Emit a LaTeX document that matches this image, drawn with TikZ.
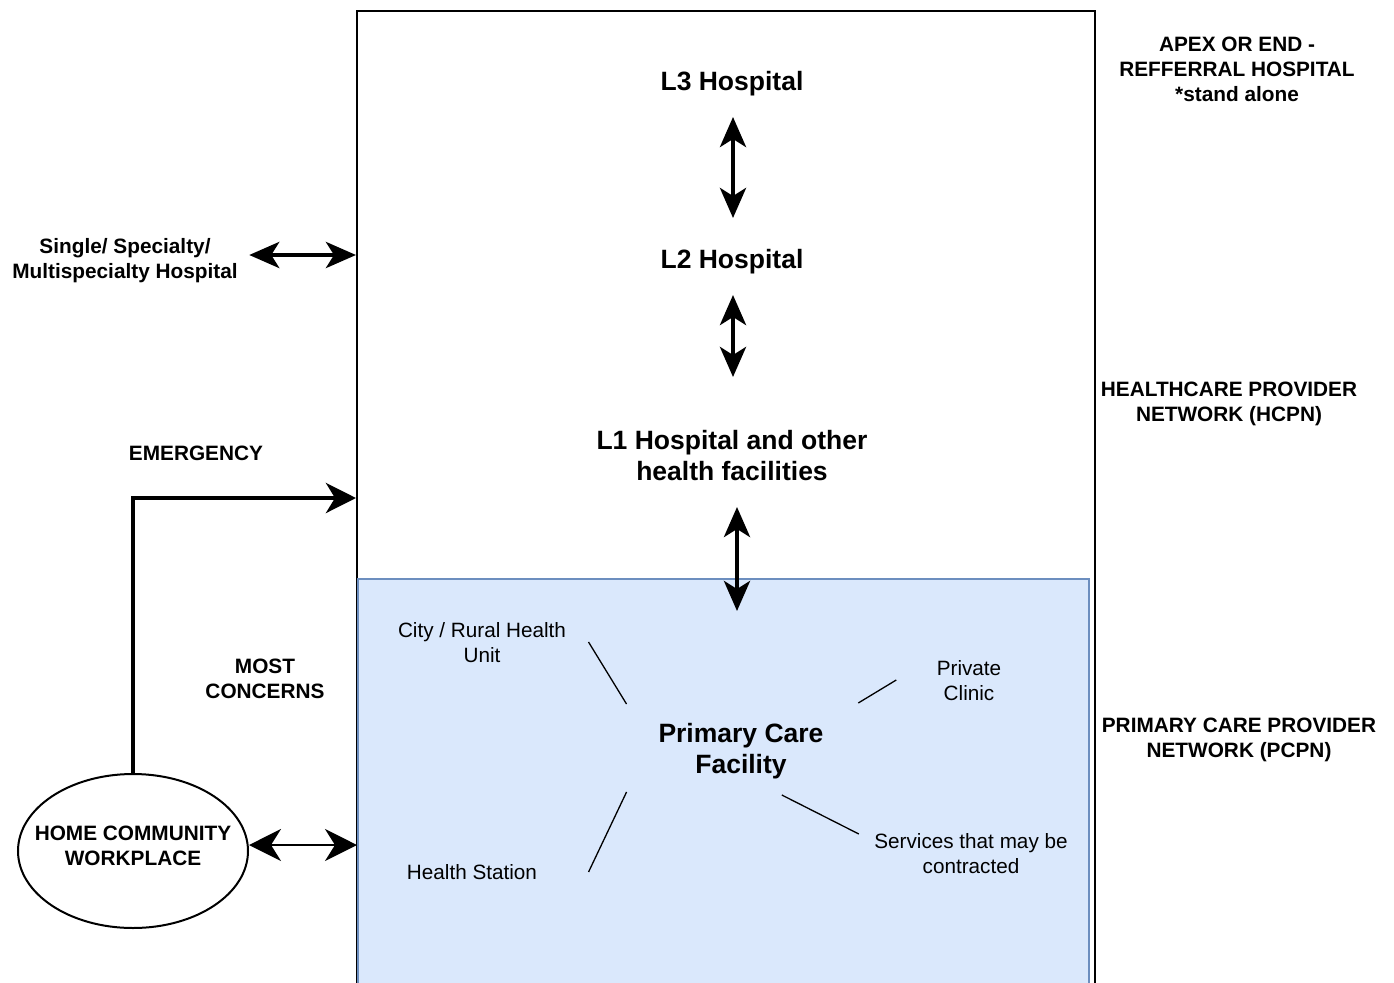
\documentclass[tikz,border=0pt]{standalone}
\usepackage{fontspec}
\setmainfont{Liberation Sans}
\usetikzlibrary{arrows.meta,shapes.geometric}
\definecolor{pcblue}{HTML}{DAE8FC}
\definecolor{pcedge}{HTML}{6C8EBF}
\newcommand{\bigtxt}{\fontsize{26.5}{31}\selectfont\bfseries}
\newcommand{\captxt}{\fontsize{20.8}{25}\selectfont\bfseries}
\newcommand{\smalltxt}{\fontsize{20.7}{25}\selectfont}

\begin{document}
\begin{tikzpicture}[x=1pt,y=-1pt,
	bigarrow/.style={line width=4.5pt,<->,>={Stealth[length=30pt,width=26pt,inset=8pt]}},
	thinarrow/.style={line width=2pt,<->,>={Stealth[length=32pt,width=32pt,inset=10pt]}},
	spoke/.style={line width=1.3pt}]
	\useasboundingbox (0,0) rectangle (1394,982);

	% the two networks
	\node[draw, line width=2pt, minimum width=738pt, minimum height=1000pt, inner sep=0, anchor=north west] (hcpn) at (356,10) {};
	\node[draw=pcedge, fill=pcblue, line width=1.5pt, minimum width=731pt, minimum height=440pt, inner sep=0, anchor=north west] (pcpn) at (357,578) {};

	\node[font=\bigtxt] (l3) at (732,84) {L3 Hospital};
	\node[font=\bigtxt] (l2) at (732,262) {L2 Hospital};
	\node[font=\bigtxt, align=center] (l1) at (732,456) {L1 Hospital and other\\health facilities};
	\node[font=\bigtxt, align=center] (pcf) at (741,751) {Primary Care\\Facility};

	\draw[bigarrow, shorten <=33pt, shorten >=44pt] ([xshift=1pt]l3.center) -- ([xshift=1pt]l2.center);
	\draw[bigarrow, shorten <=33pt, shorten >=79pt] ([xshift=1pt]l2.center) -- ([xshift=1pt]l1.center);
	\draw[bigarrow, shorten <=51pt, shorten >=140pt] ([xshift=5pt]l1.center) -- ([xshift=-4pt]pcf.center);

	% primary care members
	\node[font=\smalltxt, align=center] (city) at (482,643) {City / Rural Health\\Unit};
	\node[font=\smalltxt, align=center] (clinic) at (969,681) {Private\\Clinic};
	\node[font=\smalltxt] (station) at (472,872) {Health Station};
	\node[font=\smalltxt, align=center] (services) at (971,854) {Services that may be\\contracted};

	\draw[spoke] ([xshift=19pt,yshift=1pt]city.east) -- ++(38,62);
	\draw[spoke] ([xshift=-37pt,yshift=1pt]clinic.west) -- ++(-38,23);
	\draw[spoke] ([xshift=48pt]station.east) -- ++(38,-80);
	\draw[spoke] ([xshift=-12pt,yshift=20pt]services.west) -- ++(-77,-39);

	% levels on the right
	\node[font=\captxt, align=center] (apex) at (1237,69) {APEX OR END -\\REFFERRAL HOSPITAL\\*stand alone};
	\node[font=\captxt, align=center] (hcpnlab) at (1229,404) {HEALTHCARE PROVIDER\\NETWORK (HCPN)};
	\node[font=\captxt, align=center] (pcpnlab) at (1239,740) {PRIMARY CARE PROVIDER\\NETWORK (PCPN)};

	% left side
	\node[font=\captxt, align=center] (single) at (125,261) {Single/ Specialty/\\Multispecialty Hospital};
	\node[font=\captxt] (emerg) at (196,453) {EMERGENCY};
	\node[font=\captxt, align=center] (most) at (265,679) {MOST\\CONCERNS};
	\node[draw, ellipse, line width=2pt, minimum width=230pt, minimum height=154pt, inner sep=0] (home) at (133,851) {};
	\node[font=\captxt, align=center] (hometxt) at (133,846) {HOME COMMUNITY\\WORKPLACE};

	\draw[bigarrow, shorten <=8pt] ([yshift=6pt]single.east) -- ([yshift=6pt]single.east -| hcpn.west);
	\draw[line width=4.5pt, line join=miter, -{Stealth[length=30pt,width=30pt,inset=9pt]}] (home.north) |- ([yshift=-488pt]hcpn.north west);
	\draw[thinarrow] ([yshift=6pt]home.east) -- ([yshift=6pt]home.east -| pcpn.west);

\end{tikzpicture}
\end{document}
